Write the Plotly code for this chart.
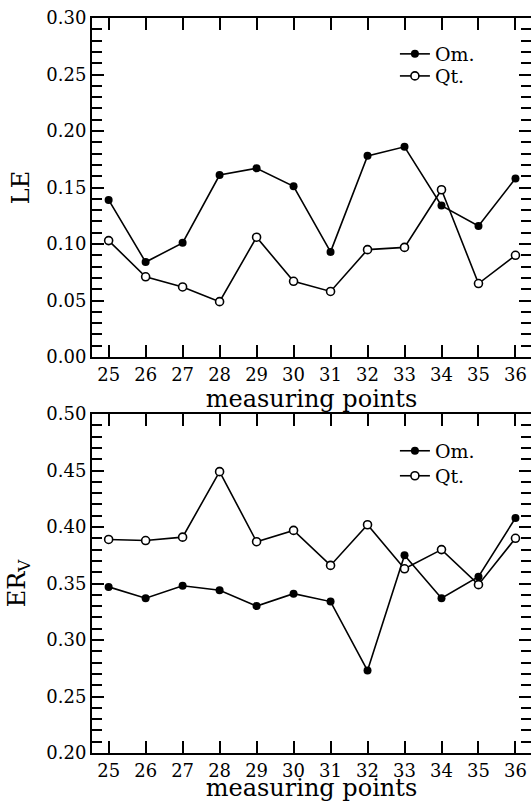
import plotly.graph_objects as go

points = [25, 26, 27, 28, 29, 30, 31, 32, 33, 34, 35, 36]
le_om = [0.139, 0.084, 0.101, 0.161, 0.167, 0.151, 0.093, 0.178, 0.186, 0.134, 0.116, 0.158]
le_qt = [0.103, 0.071, 0.062, 0.049, 0.106, 0.067, 0.058, 0.095, 0.097, 0.148, 0.065, 0.090]
erv_om = [0.347, 0.337, 0.348, 0.344, 0.330, 0.341, 0.334, 0.273, 0.375, 0.337, 0.356, 0.408]
erv_qt = [0.389, 0.388, 0.391, 0.449, 0.387, 0.397, 0.366, 0.402, 0.363, 0.380, 0.349, 0.390]

FONT = "DejaVu Serif"
fig = go.Figure()

def add_pair(om, qt, xa, ya, leg_om, leg_qt):
    fig.add_trace(go.Scatter(x=points, y=om, mode="lines+markers", name="Om.",
                             xaxis=xa, yaxis=ya, legend=leg_om,
                             line=dict(color="black", width=1.6),
                             marker=dict(symbol="circle", size=8, color="black")))
    fig.add_trace(go.Scatter(x=points, y=qt, mode="lines+markers", name="Qt.",
                             xaxis=xa, yaxis=ya, legend=leg_qt,
                             line=dict(color="black", width=1.6),
                             marker=dict(symbol="circle", size=8, color="white",
                                         line=dict(color="black", width=1.6))))

add_pair(le_om, le_qt, "x", "y", "legend", "legend2")
add_pair(erv_om, erv_qt, "x2", "y2", "legend3", "legend4")

tickfont = dict(family=FONT, size=18, color="black")
titlefont = dict(family=FONT, size=24, color="black")
xcommon = dict(range=[24.55, 36.42], tickmode="array", tickvals=points,
               ticks="inside", ticklen=12, tickwidth=1.6, tickcolor="black",
               showline=True, linewidth=2, linecolor="black", mirror="ticks",
               showgrid=False, zeroline=False, tickfont=tickfont,
               title=dict(text="measuring points", font=titlefont, standoff=1))
ycommon = dict(ticks="inside", ticklen=12, tickwidth=1.6, tickcolor="black",
               showline=True, linewidth=2, linecolor="black", mirror="ticks",
               showgrid=False, zeroline=False, tickfont=tickfont, tickformat=".2f",
               minor=dict(dtick=0.01, ticks="inside", ticklen=10, tickwidth=1.6, tickcolor="black"))

top_dom = [(753 - 357) / 735, 1.0]
bot_dom = [0.0, 339 / 735]

def leg(y):
    return dict(x=0.69, y=y, xanchor="left", yanchor="middle", bgcolor="rgba(0,0,0,0)",
                font=dict(family=FONT, size=19, color="black"))

fig.update_layout(
    width=531, height=802,
    margin=dict(l=92, r=0, t=18, b=49, autoexpand=False),
    paper_bgcolor="white", plot_bgcolor="white",
    font=dict(family=FONT, color="black"),
    xaxis=dict(**xcommon, anchor="y", domain=[0, 1]),
    yaxis=dict(**ycommon, anchor="x", domain=top_dom, range=[0, 0.30], dtick=0.05,
               title=dict(text="LE", font=titlefont, standoff=10)),
    xaxis2=dict(**xcommon, anchor="y2", domain=[0, 1]),
    yaxis2=dict(**ycommon, anchor="x2", domain=bot_dom, range=[0.20, 0.50], dtick=0.05,
                title=dict(text="ER<sub>V</sub>", font=titlefont, standoff=14)),
    legend=leg(0.951),
    legend2=leg(0.921),
    legend3=leg(0.411),
    legend4=leg(0.377),
    showlegend=True,
)

fig.write_html("out.html",
               config={"displayModeBar": False},
               post_script="document.body.style.margin='0';"
                           "document.documentElement.style.overflow='hidden';")
